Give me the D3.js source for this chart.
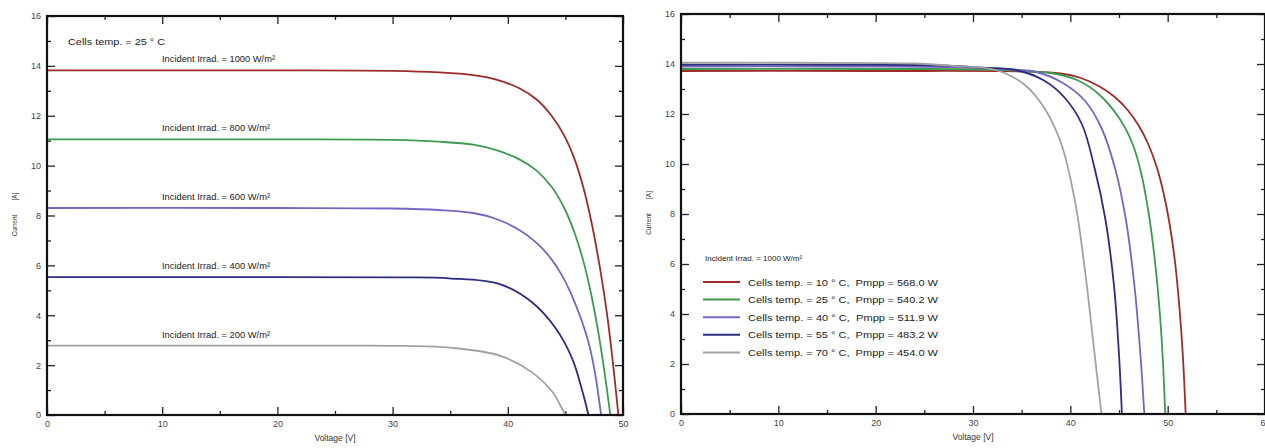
<!DOCTYPE html>
<html>
<head>
<meta charset="utf-8">
<script src="https://cdn.jsdelivr.net/npm/d3@7"></script>
<style>
  body { margin: 0; background: #fff; }
  svg { display: block; font-family: "Liberation Sans", Arial, sans-serif; }
  .tick text { fill: #444; }
</style>
</head>
<body>
<svg id="chart" width="1265" height="448"></svg>
<script>
// ---- data ----
// left panel: I-V curves at 25 C for several irradiances
const irradLevels = [1000, 800, 600, 400, 200];
const irradColors = ["#9e2b2b", "#3d9a4e", "#7367c4", "#2d2d80", "#a2a2a2"];
const irr1000 = [[0,13.82],[10,13.82],[20,13.82],[30,13.8],[34,13.74],[37,13.63],[39,13.45],[41,13.1],[42.5,12.65],[43.8,12.0],[44.9,11.2],[45.8,10.25],[46.6,9.05],[47.3,7.65],[48.0,5.9],[48.6,4.1],[49.1,2.2],[49.6,0]];
const irr800 = [[0,11.05],[20,11.05],[30,11.03],[34,10.96],[37,10.84],[39,10.62],[41,10.25],[42.5,9.8],[43.8,9.15],[44.9,8.3],[45.8,7.3],[46.6,6.1],[47.3,4.7],[47.9,3.2],[48.4,1.7],[48.9,0]];
const irr600 = [[0,8.3],[20,8.3],[30,8.28],[34,8.22],[37,8.1],[39,7.86],[41,7.42],[42.5,6.9],[43.7,6.3],[44.7,5.6],[45.6,4.75],[46.4,3.8],[47.1,2.75],[47.6,1.6],[48.1,0]];
const irr400 = [[0,5.53],[20,5.53],[30.6,5.52],[34.9,5.48],[39.3,5.25],[42.1,4.52],[44.2,3.45],[45.6,2.25],[46.5,0.91],[47.0,0]];
const irr200 = [[0,2.78],[15,2.78],[25,2.78],[31,2.77],[35,2.7],[39.3,2.38],[42.1,1.71],[43.9,0.91],[44.6,0.35],[45.0,0]];
const irrCurves = [irr1000, irr800, irr600, irr400, irr200];

// right panel: I-V curves at 1000 W/m2 for several cell temperatures
const cellTemps = [10, 25, 40, 55, 70];
const pmpp = ["568.0", "540.2", "511.9", "483.2", "454.0"];
const t10 = [[0,13.72],[20,13.72],[35,13.7],[39,13.62],[41,13.45],[43,13.1],[44.5,12.7],[45.8,12.2],[47,11.55],[48,10.8],[48.9,9.85],[49.6,8.8],[50.2,7.6],[50.75,6.1],[51.2,4.3],[51.55,2.4],[51.85,0]];
const t25 = [[0,13.8],[20,13.8],[32,13.78],[36,13.7],[38.0,13.64],[40.8,13.34],[42.9,12.8],[45.0,11.85],[46.4,10.8],[47.3,9.6],[48.1,7.9],[48.7,6.1],[49.2,4.0],[49.5,2.2],[49.75,0]];
const t40 = [[0,13.9],[15,13.9],[28,13.88],[34,13.78],[36.3,13.7],[39.1,13.27],[41.5,12.53],[43.2,11.44],[44.6,9.82],[45.7,7.79],[46.6,5.08],[47.2,2.37],[47.6,0]];
const t55 = [[0,13.97],[15,13.97],[26,13.95],[31,13.85],[34.5,13.75],[37.3,13.34],[39.4,12.66],[41.2,11.58],[42.5,9.82],[43.6,7.79],[44.5,5.08],[45.0,2.37],[45.3,0]];
const t70 = [[0,14.05],[12,14.05],[24,14.02],[28,13.92],[32.4,13.75],[35.2,13.2],[37.3,12.26],[39.1,10.77],[40.5,8.46],[41.5,5.76],[42.5,2.37],[43.2,0]];
const tempCurves = [t10, t25, t40, t55, t70];

const yTicks = [0, 2, 4, 6, 8, 10, 12, 14, 16];
const yMinor = [1, 3, 5, 7, 9, 11, 13, 15];
const xTicksLeft = [0, 10, 20, 30, 40, 50];
const xMinorLeft = [5, 15, 25, 35, 45];
const xTicksRight = [0, 10, 20, 30, 40, 50, 60];
const xMinorRight = [5, 15, 25, 35, 45, 55];

const svg = d3.select("#chart");

function panel(cfg) {
  const x = d3.scaleLinear().domain(cfg.xDomain).range(cfg.xRange);
  const y = d3.scaleLinear().domain([0, 16]).range(cfg.yRange);
  const g = svg.append("g");
  const [x0, x1] = cfg.xRange, [y0, y1] = cfg.yRange;

  // inward ticks on all four sides
  const fs = "9px";
  const bottom = g.append("g").attr("transform", `translate(0,${y0})`)
    .call(d3.axisBottom(x).tickValues(cfg.xTicks).tickSize(-8).tickPadding(6).tickFormat(d3.format("d")));
  bottom.selectAll("text").style("font-size", fs);
  g.append("g").attr("transform", `translate(0,${y0})`)
    .call(d3.axisBottom(x).tickValues(cfg.xMinor).tickSize(-4).tickFormat(""));
  g.append("g").attr("transform", `translate(0,${y1})`)
    .call(d3.axisTop(x).tickValues(cfg.xTicks).tickSize(-8).tickFormat(""));
  g.append("g").attr("transform", `translate(0,${y1})`)
    .call(d3.axisTop(x).tickValues(cfg.xMinor).tickSize(-4).tickFormat(""));
  const left = g.append("g").attr("transform", `translate(${x0},0)`)
    .call(d3.axisLeft(y).tickValues(yTicks).tickSize(-8).tickPadding(6));
  left.selectAll("text").style("font-size", fs);
  g.append("g").attr("transform", `translate(${x0},0)`)
    .call(d3.axisLeft(y).tickValues(yMinor).tickSize(-4).tickFormat(""));
  g.append("g").attr("transform", `translate(${x1},0)`)
    .call(d3.axisRight(y).tickValues(yTicks).tickSize(-8).tickFormat(""));
  g.append("g").attr("transform", `translate(${x1},0)`)
    .call(d3.axisRight(y).tickValues(yMinor).tickSize(-4).tickFormat(""));
  g.selectAll(".domain").remove();
  g.selectAll(".tick line").attr("stroke", "#222").attr("stroke-width", 1.3);

  const line = d3.line().x(d => x(d[0])).y(d => y(d[1])).curve(d3.curveCatmullRom.alpha(0.5));
  g.append("g").selectAll("path").data(cfg.curves).join("path")
    .attr("d", line).attr("fill", "none")
    .attr("stroke", (d, i) => cfg.colors[i]).attr("stroke-width", 1.8);

  // frame
  g.append("rect").attr("x", x0).attr("y", y1).attr("width", x1 - x0).attr("height", y0 - y1)
    .attr("fill", "none").attr("stroke", "#111").attr("stroke-width", 2.2);

  // axis titles
  g.append("text").attr("x", (x0 + x1) / 2).attr("y", y0 + 26).attr("text-anchor", "middle")
    .style("font-size", "8.5px").attr("fill", "#333").text("Voltage  [V]");
  const yt = g.append("g").attr("transform", `translate(${x0 - 30},${(y0 + y1) / 2 - 2}) rotate(-90)`);
  yt.append("text").attr("x", -12).attr("text-anchor", "middle").style("font-size", "6.5px").attr("fill", "#333").text("Current");
  yt.append("text").attr("x", 17).attr("text-anchor", "middle").style("font-size", "6.5px").attr("fill", "#333").text("[A]");
  return { g, x, y };
}

const L = panel({ xDomain: [0, 50], xRange: [47, 623], yRange: [415, 16],
  xTicks: xTicksLeft, xMinor: xMinorLeft, curves: irrCurves, colors: irradColors });
const R = panel({ xDomain: [0, 60], xRange: [681, 1265], yRange: [414, 14],
  xTicks: xTicksRight, xMinor: xMinorRight, curves: tempCurves, colors: irradColors });

// left annotations
L.g.append("text").attr("x", 68).attr("y", 45).style("font-size", "9.5px").attr("fill", "#222")
  .attr("textLength", 97).attr("lengthAdjust", "spacingAndGlyphs")
  .text("Cells temp. = 25 ° C");
L.g.selectAll("text.lab").data(irradLevels).join("text").attr("class", "lab")
  .attr("x", 162).attr("y", (d, i) => L.y(irrCurves[i][0][1]) - 8)
  .style("font-size", "9px").attr("fill", "#222")
  .attr("textLength", (d, i) => i === 0 ? 113 : 108).attr("lengthAdjust", "spacingAndGlyphs")
  .text(d => `Incident Irrad. = ${d} W/m²`);

// right legend
R.g.append("text").attr("x", 705).attr("y", 261).style("font-size", "8px").attr("fill", "#222")
  .text("Incident Irrad. = 1000 W/m²");
const leg = R.g.selectAll("g.leg").data(cellTemps).join("g").attr("class", "leg")
  .attr("transform", (d, i) => `translate(703,${282 + i * 17.6})`);
leg.append("line").attr("x1", 0).attr("x2", 37).attr("stroke", (d, i) => irradColors[i]).attr("stroke-width", 2);
leg.append("text").attr("x", 45).attr("y", 3.5).style("font-size", "9.5px").attr("fill", "#222")
  .attr("xml:space", "preserve")
  .attr("textLength", 190).attr("lengthAdjust", "spacingAndGlyphs")
  .text((d, i) => `Cells temp. = ${d} ° C,  Pmpp = ${pmpp[i]} W`);
</script>
</body>
</html>
